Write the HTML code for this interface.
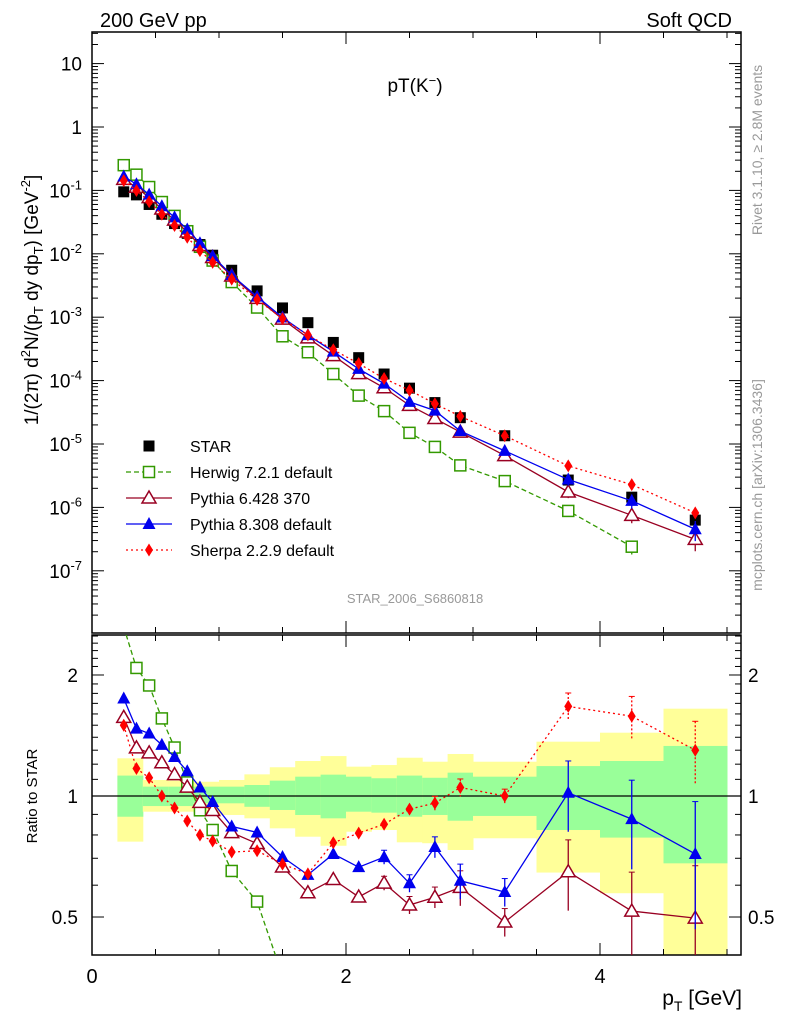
<!DOCTYPE html>
<html><head><meta charset="utf-8"><style>
html,body{margin:0;padding:0;background:#fff;width:786px;height:1024px;overflow:hidden}
svg{display:block;font-family:"Liberation Sans",Arial,sans-serif}
</style></head><body>
<svg id="chart" width="786" height="1024" viewBox="0 0 786 1024" xmlns="http://www.w3.org/2000/svg">
<text x="100" y="27" font-size="20">200 GeV pp</text>
<text x="732" y="27" font-size="20" text-anchor="end">Soft QCD</text>
<text x="415" y="92" font-size="19" text-anchor="middle">pT(K<tspan font-size="13" dy="-7">−</tspan><tspan dy="7">)</tspan></text>
<text x="415" y="603" font-size="13" fill="#999" text-anchor="middle">STAR_2006_S6860818</text>
<text transform="translate(762,150) rotate(-90)" font-size="14" fill="#999" text-anchor="middle">Rivet 3.1.10, ≥ 2.8M events</text>
<text transform="translate(762,485) rotate(-90)" font-size="14" fill="#999" text-anchor="middle">mcplots.cern.ch [arXiv:1306.3436]</text>
<text transform="translate(38,300) rotate(-90)" font-size="19" text-anchor="middle">1/(2π) d<tspan font-size="13" dy="-8">2</tspan><tspan dy="8">N/(p</tspan><tspan font-size="13" dy="5">T</tspan><tspan dy="-5"> dy dp</tspan><tspan font-size="13" dy="5">T</tspan><tspan dy="-5">) [GeV</tspan><tspan font-size="13" dy="-8">-2</tspan><tspan dy="8">]</tspan></text>
<text transform="translate(37,796) rotate(-90)" font-size="15" text-anchor="middle">Ratio to STAR</text>
<text x="742" y="1005" font-size="21" text-anchor="end">p<tspan font-size="14" dy="6">T</tspan><tspan dy="-6"> [GeV]</tspan></text>
<g id="g"></g>
</svg>
<script>
const pT=[0.25,0.35,0.45,0.55,0.65,0.75,0.85,0.95,1.1,1.3,1.5,1.7,1.9,2.1,2.3,2.5,2.7,2.9,3.25,3.75,4.25,4.75];
const star=[0.095,0.085,0.06,0.042,0.03,0.021,0.014,0.0095,0.0055,0.0026,0.0014,8.2e-4,4.0e-4,2.3e-4,1.27e-4,7.6e-5,4.5e-5,2.6e-5,1.35e-5,2.7e-6,1.45e-6,6.3e-7];
const herwig=[0.25,0.177,0.113,0.0655,0.0396,0.0227,0.0129,0.00782,0.00358,0.00142,5.0e-4,2.8e-4,1.27e-4,5.8e-5,3.3e-5,1.5e-5,9.0e-6,4.6e-6,2.6e-6,8.8e-7,2.4e-7,null];
const pythia6=[0.149,0.112,0.0768,0.0508,0.0339,0.0221,0.0135,0.00874,0.00446,0.00198,9.32e-4,4.71e-4,2.48e-4,1.29e-4,7.71e-5,4.07e-5,2.52e-5,1.54e-5,6.56e-6,1.75e-6,7.5e-7,3.13e-7];
const pythia8=[0.166,0.125,0.0858,0.0563,0.0375,0.0242,0.0147,0.00918,0.00462,0.00211,9.87e-4,5.22e-4,2.87e-4,1.53e-4,8.95e-5,4.61e-5,3.36e-5,1.6e-5,7.79e-6,2.75e-6,1.27e-6,4.52e-7];
const sherpa=[0.1425,0.0995,0.0666,0.042,0.028,0.0182,0.0112,0.00734,0.00399,0.0019,9.48e-4,5.25e-4,3.06e-4,1.86e-4,1.08e-4,7.05e-5,4.32e-5,2.73e-5,1.35e-5,4.51e-6,2.29e-6,8.19e-7];
const mcRelErr=[0.01,0.01,0.01,0.01,0.01,0.01,0.01,0.01,0.01,0.01,0.02,0.02,0.03,0.03,0.04,0.05,0.06,0.1,0.08,0.2,0.25,0.35];
const sherpaRelErr=[0.01,0.01,0.01,0.01,0.01,0.01,0.01,0.01,0.01,0.01,0.01,0.01,0.02,0.02,0.03,0.03,0.04,0.05,0.04,0.08,0.12,0.18];
const bandEdges=[0.2,0.4,0.6,0.8,1.0,1.2,1.4,1.6,1.8,2.0,2.2,2.4,2.6,2.8,3.0,3.5,4.0,4.5,5.0];
const yelHi=[1.241,1.096,1.092,1.085,1.096,1.132,1.179,1.222,1.257,1.183,1.194,1.245,1.217,1.272,1.217,1.365,1.437,1.649];
const yelLo=[0.770,0.914,0.914,0.906,0.897,0.880,0.831,0.792,0.752,0.815,0.823,0.767,0.763,0.734,0.785,0.645,0.573,0.40];
const grnHi=[1.124,1.055,1.055,1.055,1.055,1.065,1.092,1.117,1.130,1.117,1.107,1.124,1.110,1.143,1.117,1.187,1.222,1.332];
const grnLo=[0.888,0.944,0.944,0.959,0.959,0.940,0.923,0.897,0.880,0.914,0.909,0.888,0.897,0.868,0.892,0.823,0.788,0.680];

const NS='http://www.w3.org/2000/svg';
const G=document.getElementById('g');
const X0=92,X1=741,TOP=32,MB=633,RT=635,RB=955;
const xs=v=>X0+v*127;
const ys=v=>127-63.4*Math.log10(v);
const yr=v=>796-402*Math.log10(v);
function mk(tag,attrs,parent){const e=document.createElementNS(NS,tag);for(const k in attrs)e.setAttribute(k,attrs[k]);(parent||G).appendChild(e);return e;}

const defs=mk('defs',{});
const c1=mk('clipPath',{id:'cm'},defs);mk('rect',{x:X0,y:TOP,width:X1-X0,height:MB-TOP},c1);
const c2=mk('clipPath',{id:'cr'},defs);mk('rect',{x:X0,y:RT,width:X1-X0,height:RB-RT},c2);

const bandG=mk('g',{'clip-path':'url(#cr)'});


for(let i=0;i<yelHi.length;i++){
  const x=xs(bandEdges[i]),w=xs(bandEdges[i+1])-x;
  const r1=mk('rect',{x:x,y:yr(yelHi[i]),width:w+0.5,height:yr(yelLo[i])-yr(yelHi[i]),fill:'#ffff99'},bandG);
  
  
  const r2=mk('rect',{x:x,y:yr(grnHi[i]),width:w+0.5,height:yr(grnLo[i])-yr(grnHi[i]),fill:'#99ff99'},bandG);
  
  
}
const one=mk('line',{x1:X0,x2:X1,y1:yr(1),y2:yr(1),stroke:'#000','stroke-width':1.2});



const f1=mk('rect',{x:X0,y:TOP,width:X1-X0,height:MB-TOP,fill:'none',stroke:'#000','stroke-width':1.5});


const f2=mk('rect',{x:X0,y:RT,width:X1-X0,height:RB-RT,fill:'none',stroke:'#000','stroke-width':1.5});



for(let v=0;v<=5.01;v+=0.5){
  const x=xs(v),maj=Math.abs(v-Math.round(v/2)*2)<1e-6,L=maj?12:6;
  [[TOP,1],[MB,-1],[RT,1],[RB,-1]].forEach(([y,d])=>mk('line',{x1:x,x2:x,y1:y,y2:y+d*L,stroke:'#000','stroke-width':1}));
  if(maj){const t=mk('text',{x:x,y:983,'font-size':20,'text-anchor':'middle'});t.textContent=String(v);
    
    }
}
for(let e=-8;e<=1;e++){
  for(let m=1;m<10;m++){
    const v=m*Math.pow(10,e),y=ys(v);if(y<TOP||y>MB)continue;
    const L=m===1?12:6;
    mk('line',{x1:X0,x2:X0+L,y1:y,y2:y,stroke:'#000'});
    mk('line',{x1:X1,x2:X1-L,y1:y,y2:y,stroke:'#000'});
    if(m===1){
      const t=mk('text',{x:82,y:y+7,'font-size':19,'text-anchor':'end'});
      if(e===0)t.textContent='1';else if(e===1)t.textContent='10';
      else{t.textContent='10';const s=mk('tspan',{'font-size':13,dy:-8},t);s.textContent=String(e);}
      
      
    }
  }
}
const rTicks=[0.5,1,2];
for(let v=0.4;v<=2.51;v+=0.1){
  const y=yr(v);if(y<RT||y>RB)continue;
  const maj=rTicks.some(t=>Math.abs(t-v)<1e-6),L=maj?12:6;
  mk('line',{x1:X0,x2:X0+L,y1:y,y2:y,stroke:'#000'});
  mk('line',{x1:X1,x2:X1-L,y1:y,y2:y,stroke:'#000'});
}
rTicks.forEach(v=>{
  const y=yr(v);
  const t=mk('text',{x:78,y:y+7,'font-size':19,'text-anchor':'end'});t.textContent=String(v);
  
  
  const t2=mk('text',{x:748,y:y+7,'font-size':19});t2.textContent=String(v);
  
  
});

function marker(g,kind,x,y,col){
  if(kind==='sq')mk('rect',{x:x-5.5,y:y-5.5,width:11,height:11,fill:'#000'},g);
  else if(kind==='osq')mk('rect',{x:x-5.5,y:y-5.5,width:11,height:11,fill:'#fff',stroke:col,'stroke-width':1.5},g);
  else if(kind==='otri')mk('polygon',{points:`${x},${y-7} ${x-7},${y+5} ${x+7},${y+5}`,fill:'#fff',stroke:col,'stroke-width':1.5},g);
  else if(kind==='tri')mk('polygon',{points:`${x},${y-7} ${x-6.5},${y+5} ${x+6.5},${y+5}`,fill:col},g);
  else if(kind==='dia')mk('polygon',{points:`${x},${y-6.5} ${x-4},${y} ${x},${y+6.5} ${x+4},${y}`,fill:col},g);
}
const series=[
 {name:'herwig',data:herwig,err:mcRelErr,col:'#339900',kind:'osq',dash:'5,3',label:'Herwig 7.2.1 default'},
 {name:'pythia6',data:pythia6,err:mcRelErr,col:'#990022',kind:'otri',dash:null,label:'Pythia 6.428 370'},
 {name:'pythia8',data:pythia8,err:mcRelErr,col:'#0000ee',kind:'tri',dash:null,label:'Pythia 8.308 default'},
 {name:'sherpa',data:sherpa,err:sherpaRelErr,col:'#ff0000',kind:'dia',dash:'2,3',label:'Sherpa 2.2.9 default'}
];
const sg=mk('g',{'clip-path':'url(#cm)'});


pT.forEach((p,i)=>marker(sg,'sq',xs(p),ys(star[i])));

series.forEach(s=>{
  const gm=mk('g',{'clip-path':'url(#cm)'});
  
  
  const gr=mk('g',{'clip-path':'url(#cr)'});
  
  
  const pm=[],pr=[];
  pT.forEach((p,i)=>{const v=s.data[i];if(v==null)return;pm.push(xs(p)+','+ys(v));pr.push(xs(p)+','+yr(v/star[i]));});
  const la={fill:'none',stroke:s.col,'stroke-width':1.3};if(s.dash)la['stroke-dasharray']=s.dash;
  mk('polyline',Object.assign({points:pm.join(' ')},la),gm);
  mk('polyline',Object.assign({points:pr.join(' ')},la),gr);
  pT.forEach((p,i)=>{const v=s.data[i];if(v==null)return;
    const x=xs(p),r=v/star[i],e=s.err[i];
    if(e>0.03){
      const ea={stroke:s.col,'stroke-width':1.3};if(s.dash)ea['stroke-dasharray']='2,2';
      mk('line',Object.assign({x1:x,x2:x,y1:yr(r*(1+e)),y2:yr(Math.max(r*(1-e),0.05))},ea),gr);
      mk('line',{x1:x-3,x2:x+3,y1:yr(r*(1+e)),y2:yr(r*(1+e)),stroke:s.col},gr);
      mk('line',Object.assign({x1:x,x2:x,y1:ys(v*(1+e)),y2:ys(v*Math.max(1-e,0.05))},ea),gm);
    }
    marker(gm,s.kind,x,ys(v),s.col);marker(gr,s.kind,x,yr(r),s.col);
  });
});

const lg=mk('g',{});


const ent=[{kind:'sq',col:'#000',label:'STAR',dash:null,line:false}].concat(series.map(s=>({kind:s.kind,col:s.col,label:s.label,dash:s.dash,line:true})));
ent.forEach((e,i)=>{
  const y=446+i*26;
  const eg=mk('g',{},lg);
  
  
  if(e.line){const a={x1:126,x2:172,y1:y,y2:y,stroke:e.col,'stroke-width':1.3};if(e.dash)a['stroke-dasharray']=e.dash;mk('line',a,eg);}
  marker(eg,e.kind,149,y,e.col);
  const t=mk('text',{x:190,y:y+6,'font-size':16},eg);t.textContent=e.label;
});
</script>
</body></html>
